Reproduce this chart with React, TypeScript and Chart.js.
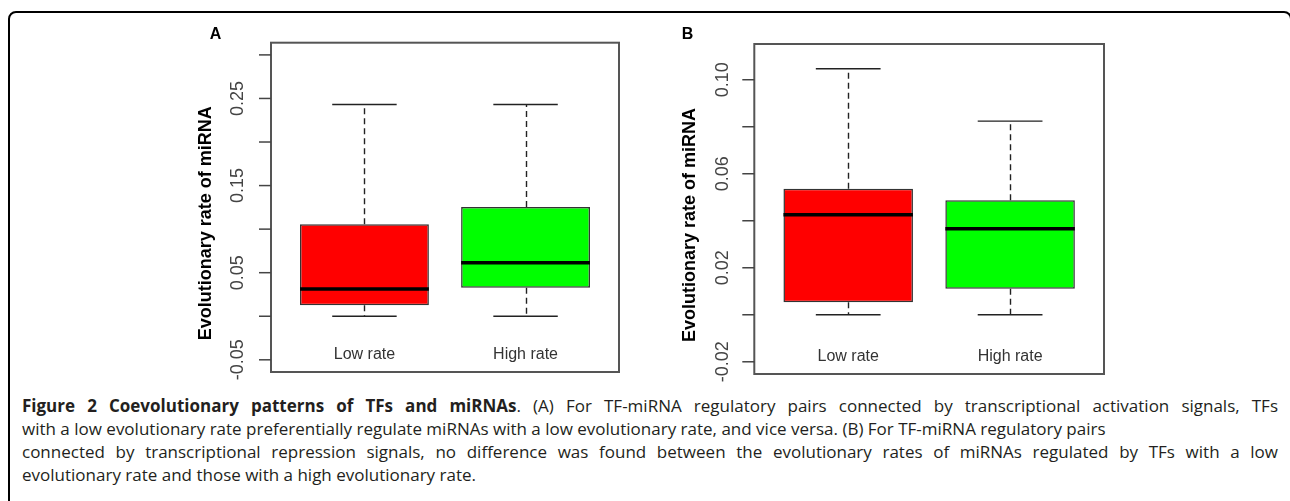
import React, { useEffect, useRef } from "react";
import { Chart, registerables } from "chart.js";
Chart.register(...registerables);

// ---- data ----
const categories = ["Low rate", "High rate"];
const positions = [1, 2];
const boxColors = ["#ff0000", "#00ff00"];
const yTitle = "Evolutionary rate of miRNA";
const xLim = [0.5, 2.5];

// Panel A
const minA = [0.0, 0.0];
const q1A = [0.0126, 0.0328];
const medianA = [0.0312, 0.0614];
const q3A = [0.1057, 0.1255];
const maxA = [0.243, 0.243];
const yLimA = [-0.05, 0.3];
const yTicksA = [-0.05, 0.0, 0.05, 0.1, 0.15, 0.2, 0.25, 0.3];
const yTickLabelsA = ["-0.05", "", "0.05", "", "0.15", "", "0.25", ""];

// Panel B
const minB = [0.0, 0.0];
const q1B = [0.0053, 0.0111];
const medianB = [0.0426, 0.0366];
const q3B = [0.0536, 0.0487];
const maxB = [0.1047, 0.0824];
const yLimB = [-0.02, 0.11];
const yTicksB = [-0.02, 0.0, 0.02, 0.04, 0.06, 0.08, 0.1];
const yTickLabelsB = ["-0.02", "", "0.02", "", "0.06", "", "0.10"];

const captionLines = [
  "with a low evolutionary rate preferentially regulate miRNAs with a low evolutionary rate, and vice versa. (B) For TF-miRNA regulatory pairs",
  "connected by transcriptional repression signals, no difference was found between the evolutionary rates of miRNAs regulated by TFs with a low",
  "evolutionary rate and those with a high evolutionary rate.",
];

// R-style 4% axis expansion
const expand = (lim: number[]) => {
  const d = (lim[1] - lim[0]) * 0.04;
  return [lim[0] - d, lim[1] + d];
};

type Stats = {
  min: number[];
  q1: number[];
  med: number[];
  q3: number[];
  max: number[];
  ticks: number[];
  tickLabels: string[];
  letter: string;
  letterX: number;
  letterY: number;
  tickLabelOffset: number;
  titleOffset: number;
};

const makePlugin = (s: Stats) => ({
  id: "rbox" + s.letter,
  beforeDatasetsDraw(chart: any) {
    const { ctx, scales } = chart;
    const x = scales.x;
    const y = scales.y;
    ctx.save();
    ctx.strokeStyle = "#222";
    ctx.lineWidth = 1.4;
    positions.forEach((p, i) => {
      const cx = Math.round(x.getPixelForValue(p)) + 0.5;
      ctx.setLineDash([6, 4]);
      ctx.beginPath();
      ctx.moveTo(cx, y.getPixelForValue(s.q3[i]));
      ctx.lineTo(cx, y.getPixelForValue(s.max[i]));
      ctx.moveTo(cx, y.getPixelForValue(s.q1[i]));
      ctx.lineTo(cx, y.getPixelForValue(s.min[i]));
      ctx.stroke();
      ctx.setLineDash([]);
      const l = x.getPixelForValue(p - 0.2);
      const r = x.getPixelForValue(p + 0.2);
      ctx.beginPath();
      [s.max[i], s.min[i]].forEach((v) => {
        const py = y.getPixelForValue(v);
        ctx.moveTo(l, py);
        ctx.lineTo(r, py);
      });
      ctx.stroke();
    });
    ctx.restore();
  },
  afterDatasetsDraw(chart: any) {
    const { ctx, chartArea: a, scales } = chart;
    const x = scales.x;
    const y = scales.y;
    ctx.save();
    // medians
    const meta = chart.getDatasetMeta(0);
    ctx.strokeStyle = "#000";
    ctx.lineWidth = 3.5;
    meta.data.forEach((el: any, i: number) => {
      const { x: ex, width } = el.getProps(["x", "width"], true);
      const py = y.getPixelForValue(s.med[i]);
      ctx.beginPath();
      ctx.moveTo(ex - width / 2, py);
      ctx.lineTo(ex + width / 2, py);
      ctx.stroke();
    });
    // frame
    ctx.strokeStyle = "#555";
    ctx.lineWidth = 2;
    ctx.strokeRect(a.left, a.top, a.right - a.left, a.bottom - a.top);
    // y ticks
    ctx.lineWidth = 1.5;
    ctx.strokeStyle = "#444";
    ctx.fillStyle = "#444";
    ctx.font = "18px 'Liberation Sans', Arial, sans-serif";
    s.ticks.forEach((v, i) => {
      const py = y.getPixelForValue(v);
      ctx.beginPath();
      ctx.moveTo(a.left - 12, py);
      ctx.lineTo(a.left, py);
      ctx.stroke();
      const lab = s.tickLabels[i];
      if (lab) {
        ctx.save();
        ctx.translate(a.left - s.tickLabelOffset, py);
        ctx.rotate(-Math.PI / 2);
        ctx.textAlign = "center";
        ctx.textBaseline = "middle";
        ctx.fillText(lab, 0, 0);
        ctx.restore();
      }
    });
    // category labels
    ctx.font = "16px 'Liberation Sans', Arial, sans-serif";
    ctx.fillStyle = "#333";
    ctx.textAlign = "center";
    ctx.textBaseline = "alphabetic";
    categories.forEach((c, i) => {
      ctx.fillText(c, x.getPixelForValue(positions[i]), a.bottom - 13);
    });
    // y title
    ctx.save();
    ctx.font = "bold 18px 'Liberation Sans', Arial, sans-serif";
    ctx.fillStyle = "#000";
    ctx.translate(a.left - s.titleOffset, (a.top + a.bottom) / 2 + 16);
    ctx.rotate(-Math.PI / 2);
    ctx.textAlign = "center";
    ctx.textBaseline = "middle";
    ctx.fillText(yTitle, 0, 0);
    ctx.restore();
    // panel letter
    ctx.font = "bold 16px 'Liberation Sans', Arial, sans-serif";
    ctx.fillStyle = "#000";
    ctx.textAlign = "center";
    ctx.textBaseline = "middle";
    ctx.fillText(s.letter, s.letterX, s.letterY);
    ctx.restore();
  },
});

function BoxPanel(props: {
  stats: Stats;
  yLim: number[];
  width: number;
  height: number;
  left: number;
  top: number;
  padding: { left: number; right: number; top: number; bottom: number };
}) {
  const ref = useRef<HTMLCanvasElement | null>(null);
  useEffect(() => {
    if (!ref.current) return;
    const s = props.stats;
    const [ymin, ymax] = expand(props.yLim);
    const [xmin, xmax] = expand(xLim);
    const chart = new Chart(ref.current, {
      type: "bar",
      data: {
        datasets: [
          {
            data: positions.map((p, i) => ({ x: p, y: [s.q1[i], s.q3[i]] })) as any,
            backgroundColor: boxColors,
            borderColor: "#333",
            borderWidth: 1.5,
            borderSkipped: false,
            barPercentage: 0.8,
            categoryPercentage: 1,
          } as any,
        ],
      },
      options: {
        responsive: false,
        animation: false,
        devicePixelRatio: 1,
        layout: { padding: props.padding },
        plugins: { legend: { display: false }, tooltip: { enabled: false } },
        scales: {
          x: {
            type: "linear",
            min: xmin,
            max: xmax,
            offset: false,
            display: false,
            ticks: { stepSize: 1, includeBounds: false },
          },
          y: { type: "linear", min: ymin, max: ymax, display: false },
        },
      } as any,
      plugins: [makePlugin(s) as any],
    });
    return () => chart.destroy();
  }, []);
  return (
    <canvas
      ref={ref}
      width={props.width}
      height={props.height}
      style={{ position: "absolute", left: props.left, top: props.top, width: props.width, height: props.height }}
    />
  );
}

const statsA: Stats = {
  min: minA, q1: q1A, med: medianA, q3: q3A, max: maxA,
  ticks: yTicksA, tickLabels: yTickLabelsA,
  letter: "A", letterX: 25.5, letterY: 15, tickLabelOffset: 33, titleOffset: 65,
};
const statsB: Stats = {
  min: minB, q1: q1B, med: medianB, q3: q3B, max: maxB,
  ticks: yTicksB, tickLabels: yTickLabelsB,
  letter: "B", letterX: 17.5, letterY: 15, tickLabelOffset: 31, titleOffset: 64,
};

export default function App() {
  const capFont = "'Open Sans', 'Noto Sans', sans-serif";
  const justified = { width: 1256, textAlign: "justify" as const, textAlignLast: "justify" as const };
  return (
    <div
      style={{
        position: "fixed",
        left: 0,
        top: 0,
        width: 1290,
        height: 501,
        overflow: "hidden",
        background: "#fff",
      }}
    >
      <div
        style={{
          position: "absolute",
          left: 8,
          top: 11,
          width: 1280,
          height: 520,
          border: "2px solid #000",
          borderRadius: 8,
        }}
      />
      <BoxPanel stats={statsA} yLim={yLimA} left={190} top={20} width={450} height={370}
        padding={{ left: 81, top: 22.7, right: 21, bottom: 18 }} />
      <BoxPanel stats={statsB} yLim={yLimB} left={670} top={20} width={440} height={370}
        padding={{ left: 84.3, top: 24, right: 6, bottom: 16 }} />
      <div
        style={{
          position: "absolute",
          left: 22,
          top: 394,
          fontFamily: capFont,
          fontSize: 17,
          lineHeight: "23px",
          color: "#231f20",
          whiteSpace: "nowrap",
        }}
      >
        <div style={justified}>
          <b>Figure 2 Coevolutionary patterns of TFs and miRNAs</b>. (A) For TF-miRNA regulatory pairs connected by transcriptional activation signals, TFs
        </div>
        <div>{captionLines[0]}</div>
        <div style={justified}>{captionLines[1]}</div>
        <div>{captionLines[2]}</div>
      </div>
    </div>
  );
}
